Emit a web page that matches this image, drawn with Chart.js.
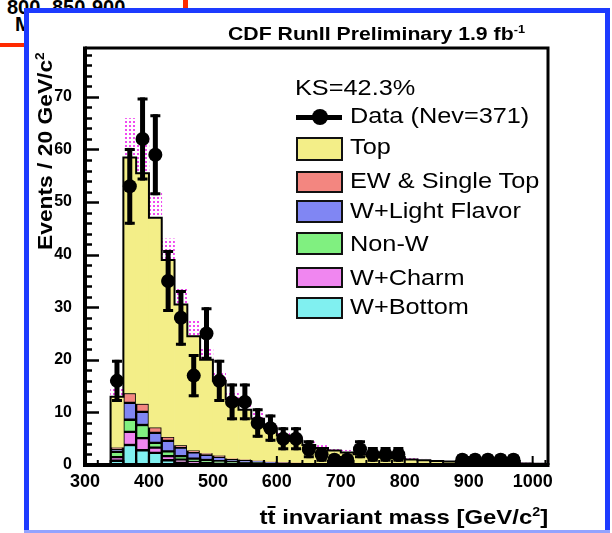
<!DOCTYPE html>
<html>
<head>
<meta charset="utf-8">
<title>CDF ttbar invariant mass</title>
<script src="https://cdn.jsdelivr.net/npm/chart.js@4.4.1/dist/chart.umd.min.js"></script>
<style>
  html, body { margin: 0; padding: 0; background: #fff; }
  body { width: 612px; height: 533px; position: relative; overflow: hidden;
         font-family: 'Liberation Sans', Arial, sans-serif; color: #000; }
  .abs { position: absolute; white-space: nowrap; }
  .bg-num { font-weight: bold; font-size: 20px; line-height: 20px; }
  #frame { position: absolute; left: 24px; top: 8px; width: 576px; height: 540px;
           border: 5px solid #1d3bff; background: #fff; }
  #chart { position: absolute; left: 0; top: 0; }
  .lg-text { font-size: 22px; line-height: 22px; transform: scaleX(1.15); transform-origin: 0 0; }
  .lg-box { position: absolute; left: 296px; width: 43px; border: 2px solid #111; }
  sup { font-size: 60%; line-height: 0; vertical-align: super; }
</style>
</head>
<body>
  <!-- bits of the page behind the chart -->
  <div class="abs bg-num" style="left:7px; top:-3px;">800</div>
  <div class="abs bg-num" style="left:52px; top:-3px;">850</div>
  <div class="abs bg-num" style="left:92px; top:-3px;">900</div>
  <div class="abs bg-num" style="left:15px; top:14px;">M</div>
  <div class="abs" style="left:0; top:43px; width:26px; height:4px; background:#ff2a00;"></div>
  <div class="abs" style="left:183px; top:0; width:5px; height:10px; background:#ff2a00;"></div>

  <div id="frame"></div>
  <div class="abs" style="left:24px; top:530px; width:586px; height:3px; background:#93a3ff;"></div>

  <canvas id="chart" width="612" height="533"></canvas>

  <!-- titles -->
  <div class="abs" style="left:228px; top:25px; font-weight:bold; font-size:18px; line-height:18px; transform:scaleX(1.18); transform-origin:0 0;">CDF RunII Preliminary 1.9 fb<sup>-1</sup></div>
  <div class="abs" style="left:34px; top:250px; font-weight:bold; font-size:20px; line-height:22px; transform:rotate(-90deg) scaleX(1.14); transform-origin:0 0;">Events / 20 GeV/c<sup>2</sup></div>
  <div class="abs" style="right:64px; top:506px; font-weight:bold; font-size:21px; line-height:22px; transform:scaleX(1.14); transform-origin:100% 0;">t<span style="position:relative;">t<span style="position:absolute; left:0; right:0; top:1px; height:2px; background:#000;"></span></span> invariant mass [GeV/c<sup>2</sup>]</div>

  <!-- legend -->
  <div class="abs lg-text" style="left:295px; top:77px;">KS=42.3%</div>
  <div class="abs" style="left:296px; top:115px; width:46px; height:5px; background:#000;"></div>
  <div class="abs" style="left:312px; top:109px; width:16px; height:16px; border-radius:50%; background:#000;"></div>
  <div class="abs lg-text" style="left:350px; top:105px;">Data (Nev=371)</div>

  <div class="lg-box" style="top:137px; height:20px; background:#f3ee88;"></div>
  <div class="abs lg-text" style="left:350px; top:136px;">Top</div>
  <div class="lg-box" style="top:171px; height:18px; background:#f38680;"></div>
  <div class="abs lg-text" style="left:350px; top:170px;">EW &amp; Single Top</div>
  <div class="lg-box" style="top:200px; height:19px; background:#8086f3;"></div>
  <div class="abs lg-text" style="left:350px; top:200px;">W+Light Flavor</div>
  <div class="lg-box" style="top:232px; height:19px; background:#80f080;"></div>
  <div class="abs lg-text" style="left:350px; top:233px;">Non-W</div>
  <div class="lg-box" style="top:267px; height:17px; background:#f086f0;"></div>
  <div class="abs lg-text" style="left:350px; top:267px;">W+Charm</div>
  <div class="lg-box" style="top:297px; height:18px; background:#80f0f0;"></div>
  <div class="abs lg-text" style="left:350px; top:296px;">W+Bottom</div>

<script>
// ── Data: 20 GeV bins, given by their centres ──
const binCentres = [350, 370, 390, 410, 430, 450, 470, 490, 510, 530, 550, 570, 590, 610, 630, 650, 670,
                    690, 710, 730, 750, 770, 790, 810, 830, 850, 870, 890, 910, 930, 950, 970, 990, 1010];

// observed events and their errors
const dataCounts = [16, 53, 62, 59, 35, 28, 17, 25, 16, 12, 12, 8, 7, 5, 5, 3, 2,
                    1, 1, 3, 2, 2, 2, 0, 0, 0, 0, 1, 1, 1, 1, 1, 0, 0];
const dataErrors = [4, 7.3, 7.9, 7.7, 5.9, 5.3, 4.1, 5, 4, 3.5, 3.5, 2.8, 2.6, 2.2, 2.2, 1.7, 1.4,
                    1, 1, 1.7, 1.4, 1.4, 1.4, 0, 0, 0, 0, 1, 1, 1, 1, 1, 0, 0];

// predicted contributions, stacked bottom -> top
const wBottom = [0.8, 3.8, 2.8, 2.3, 0.9, 0.5, 0.3, 0.2, 0.15, 0.1, 0.1, 0.05, 0.05, 0.05, 0.04, 0.03, 0.03,
                 0.02, 0.02, 0.02, 0.01, 0.01, 0.01, 0.01, 0.01, 0.01, 0.01, 0.01, 0.01, 0.01, 0.01, 0.01, 0.01, 0.01];
const wCharm = [0.7, 2.5, 2.3, 1.0, 0.8, 0.5, 0.3, 0.25, 0.2, 0.15, 0.1, 0.1, 0.05, 0.05, 0.04, 0.03, 0.03,
                0.02, 0.02, 0.02, 0.01, 0.01, 0.01, 0.01, 0.01, 0.01, 0.01, 0.01, 0.01, 0.01, 0.01, 0.01, 0.01, 0.01];
const nonW = [1.0, 2.3, 2.5, 0.9, 0.9, 0.7, 0.6, 0.5, 0.4, 0.45, 0.3, 0.4, 0.3, 0.25, 0.2, 0.2, 0.15,
              0.12, 0.1, 0.1, 0.08, 0.07, 0.06, 0.05, 0.04, 0.04, 0.03, 0.03, 0.02, 0.02, 0.02, 0.02, 0.01, 0.01];
const wLight = [0.5, 3.2, 2.5, 1.9, 2.0, 1.6, 1.2, 1.0, 0.8, 0.4, 0.4, 0.25, 0.2, 0.15, 0.12, 0.1, 0.1,
                0.08, 0.07, 0.06, 0.05, 0.04, 0.04, 0.02, 0.02, 0.01, 0.01, 0.01, 0.01, 0.01, 0.01, 0, 0, 0];
const ewSingleTop = [0.4, 1.9, 1.6, 1.1, 0.8, 0.5, 0.4, 0.35, 0.3, 0.2, 0.2, 0.1, 0.1, 0.1, 0.1, 0.05, 0.05,
                     0.04, 0.04, 0.03, 0.03, 0.02, 0.01, 0.01, 0.01, 0.01, 0.01, 0, 0, 0, 0, 0, 0, 0];
const topSignal = [9.6, 44.8, 43.8, 39.8, 33.6, 26.7, 21.7, 17.7, 14.15, 11.2, 9.4, 7.9, 6.3, 5.0, 4.1, 3.4, 2.85,
                   2.5, 2.15, 1.8, 1.5, 1.3, 1.1, 0.95, 0.8, 0.7, 0.6, 0.5, 0.45, 0.4, 0.33, 0.28, 0.25, 0.2];

// systematic band drawn above the prediction
const bandErr = [1.5, 7.4, 7, 5, 4, 3.2, 3, 2.2, 1.8, 1.4, 1.2, 1.1, 0.9, 0.8, 0.7, 0.6, 0.5,
                 0.45, 0.4, 0.35, 0.3, 0.3, 0.25, 0.2, 0.2, 0.2, 0.15, 0.15, 0.1, 0.1, 0.1, 0.1, 0.1, 0.1];

// axes
const xTicks = [300, 400, 500, 600, 700, 800, 900, 1000];
const yTicks = [0, 10, 20, 30, 40, 50, 60, 70];
const BIN = 20;

// ── Stack layers ──────────────────────────────
const layers = [
  { label: 'W+Bottom',         values: wBottom,     color: '#80f0f0', border: 1.5 },
  { label: 'W+Charm',          values: wCharm,      color: '#f086f0', border: 1.5 },
  { label: 'Non-W',            values: nonW,        color: '#80f080', border: 1.5 },
  { label: 'W+Light Flavor',   values: wLight,      color: '#8086f3', border: 1.5 },
  { label: 'EW & Single Top',  values: ewSingleTop, color: '#f38680', border: 1.5 },
  { label: 'Top',              values: topSignal,   color: '#f3ee88', border: 0 }
];

const running = binCentres.map(() => 0);
const barSets = layers.map((l, k) => {
  const pts = [];
  binCentres.forEach((c, i) => {
    const lo = running[i];
    const hi = lo + l.values[i];
    running[i] = hi;
    if (l.values[i] > 0) pts.push({ x: c, y: [lo, hi] });
  });
  return {
    type: 'bar', label: l.label, data: pts,
    backgroundColor: l.color, borderColor: '#000', borderWidth: l.border,
    borderSkipped: false, grouped: false,
    barPercentage: 1, categoryPercentage: 1,
    order: 10 - k
  };
});
const totals = running.slice();

// dotted magenta pattern for the band
function dotPattern() {
  const tile = document.createElement('canvas');
  tile.width = 4; tile.height = 4;
  const t = tile.getContext('2d');
  t.fillStyle = '#f048f0';
  t.fillRect(1, 1, 2, 2);
  return t.createPattern(tile, 'repeat');
}

const bandSet = {
  type: 'bar', label: 'band',
  data: binCentres.map((c, i) => ({ x: c, y: [totals[i], totals[i] + bandErr[i]] })),
  backgroundColor: dotPattern(), borderWidth: 0, grouped: false,
  barPercentage: 1, categoryPercentage: 1, order: 3
};

// step outline of the total prediction
const outline = [{ x: binCentres[0] - BIN / 2, y: 0 }];
binCentres.forEach((c, i) => outline.push({ x: c - BIN / 2, y: totals[i] }));
outline.push({ x: binCentres[binCentres.length - 1] + BIN / 2, y: totals[totals.length - 1] });

const outlineSet = {
  type: 'line', label: 'outline', data: outline, stepped: true,
  borderColor: '#000', borderWidth: 2, pointRadius: 0, fill: false, order: 2
};

const dataSet = {
  type: 'line', label: 'Data',
  data: binCentres.map((c, i) => ({ x: c, y: dataCounts[i] })).filter(p => p.y > 0),
  showLine: false, pointRadius: 7, pointBackgroundColor: '#000', pointBorderWidth: 0,
  order: 0
};

// ── Plugins ───────────────────────────────────
const errorBars = {
  id: 'errorBars',
  afterDatasetsDraw(chart) {
    const { ctx, chartArea: a, scales: { x, y } } = chart;
    ctx.save();
    ctx.beginPath(); ctx.rect(a.left, a.top, a.right - a.left, a.bottom - a.top); ctx.clip();
    ctx.strokeStyle = '#000';
    binCentres.forEach((c, i) => {
      const v = dataCounts[i];
      if (!v) return;
      const px = x.getPixelForValue(c);
      const py = y.getPixelForValue(v);
      const top = y.getPixelForValue(v + dataErrors[i]);
      const bot = y.getPixelForValue(v - dataErrors[i]);
      ctx.lineWidth = 5;
      ctx.beginPath(); ctx.moveTo(px, top); ctx.lineTo(px, bot); ctx.stroke();
      ctx.lineWidth = 3;
      ctx.beginPath();
      ctx.moveTo(px - 5, top + 1.5); ctx.lineTo(px + 5, top + 1.5);
      ctx.moveTo(px - 5, bot - 1.5); ctx.lineTo(px + 5, bot - 1.5);
      ctx.stroke();
      ctx.lineWidth = 4;
      ctx.beginPath();
      ctx.moveTo(x.getPixelForValue(c - BIN / 2), py);
      ctx.lineTo(x.getPixelForValue(c + BIN / 2), py);
      ctx.stroke();
    });
    ctx.restore();
  }
};

const frameAndTicks = {
  id: 'frameAndTicks',
  afterDraw(chart) {
    const { ctx, chartArea: a, scales: { x, y } } = chart;
    ctx.save();
    ctx.strokeStyle = '#000';
    // y ticks on the inside, every 2 events
    ctx.lineWidth = 2.5;
    for (let v = 0; v <= y.max; v += 2) {
      const py = Math.round(y.getPixelForValue(v)) + 0.5;
      const len = v % 10 === 0 ? 14 : 7;
      ctx.beginPath(); ctx.moveTo(a.left, py); ctx.lineTo(a.left + len, py); ctx.stroke();
    }
    // x ticks on the inside
    ctx.lineWidth = 2;
    for (let m = x.min; m <= x.max; m += BIN) {
      const px = x.getPixelForValue(m);
      const len = m % 100 === 0 ? 9 : 5;
      ctx.beginPath(); ctx.moveTo(px, a.bottom); ctx.lineTo(px, a.bottom - len); ctx.stroke();
    }
    // frame
    ctx.lineWidth = 3;
    ctx.beginPath();
    ctx.moveTo(a.left, a.top); ctx.lineTo(a.right, a.top); ctx.lineTo(a.right, a.bottom);
    ctx.stroke();
    ctx.lineWidth = 4;
    ctx.beginPath();
    ctx.moveTo(a.left, a.top - 1.5); ctx.lineTo(a.left, a.bottom); ctx.lineTo(a.right + 1.5, a.bottom);
    ctx.stroke();
    ctx.restore();
  }
};

// ── Chart ─────────────────────────────────────
new Chart(document.getElementById('chart'), {
  type: 'bar',
  data: { datasets: [dataSet, outlineSet, bandSet, ...barSets] },
  options: {
    responsive: false, animation: false, devicePixelRatio: 1,
    layout: { padding: { left: 45, right: 64, top: 48, bottom: 38 } },
    plugins: { legend: { display: false }, tooltip: { enabled: false } },
    scales: {
      x: {
        type: 'linear', min: 300, max: 1024, offset: false,
        grid: { display: false, offset: false }, border: { display: false },
        afterBuildTicks(s) { s.ticks = xTicks.map(v => ({ value: v })); },
        afterFit(s) { s.height = 30; },
        ticks: { padding: -2, color: '#000', maxRotation: 0, callback: v => String(v),
                 font: { family: "'Liberation Sans', Arial", size: 18, weight: 'bold' } }
      },
      y: {
        min: 0, max: 79.3,
        grid: { display: false }, border: { display: false },
        afterBuildTicks(s) { s.ticks = yTicks.map(v => ({ value: v })); },
        afterFit(s) { s.width = 40; },
        ticks: { padding: 5, color: '#000',
                 font: { family: "'Liberation Sans', Arial", size: 16, weight: 'bold' } }
      }
    }
  },
  plugins: [errorBars, frameAndTicks]
});
</script>
</body>
</html>
